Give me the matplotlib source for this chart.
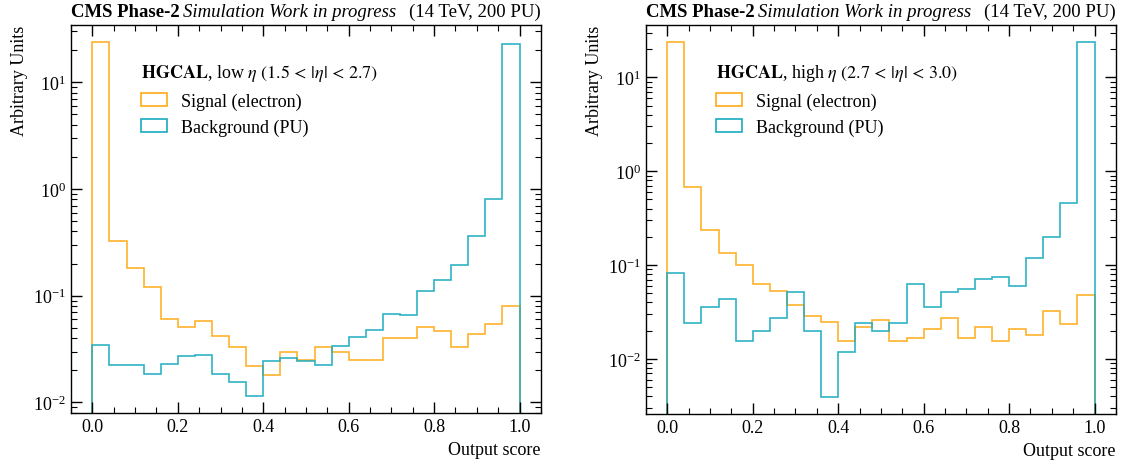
import numpy as np
import matplotlib
matplotlib.use("Agg")
import matplotlib.pyplot as plt
from matplotlib.patches import Patch
from matplotlib.ticker import MultipleLocator, LogLocator

plt.rcParams['font.family'] = ['Liberation Serif', 'DejaVu Serif']
plt.rcParams['mathtext.fontset'] = 'stix'

# bin edges of the output score
bin_edges = np.linspace(0.0, 1.0, 26)

# low eta (1.5 < |eta| < 2.7)
low_signal = [23.7, 0.322, 0.183, 0.121, 0.060, 0.051, 0.058, 0.042, 0.033, 0.022,
              0.018, 0.030, 0.025, 0.033, 0.030, 0.025, 0.025, 0.040, 0.040, 0.051,
              0.047, 0.033, 0.044, 0.054, 0.080]
low_bkg = [0.0346, 0.0222, 0.0222, 0.0183, 0.0231, 0.0271, 0.0279, 0.0183, 0.0155, 0.0116,
           0.0242, 0.0259, 0.0242, 0.0222, 0.0336, 0.0414, 0.0481, 0.0675, 0.0655, 0.110,
           0.139, 0.192, 0.364, 0.80, 22.9]

# high eta (2.7 < |eta| < 3.0)
high_signal = [23.6, 0.676, 0.239, 0.135, 0.101, 0.0625, 0.0531, 0.0376, 0.0287, 0.0246,
               0.0156, 0.0221, 0.0258, 0.0156, 0.0168, 0.0207, 0.0271, 0.0168, 0.0221, 0.0156,
               0.0207, 0.0182, 0.0325, 0.0236, 0.0481]
high_bkg = [0.0825, 0.0240, 0.0355, 0.0432, 0.0157, 0.0197, 0.0276, 0.0513, 0.0197, 0.00396,
            0.0119, 0.0240, 0.0197, 0.0240, 0.0635, 0.0355, 0.0513, 0.0557, 0.0712, 0.0753,
            0.0594, 0.118, 0.201, 0.456, 23.6]

legend_titles = [r"$\mathbf{HGCAL}$, low $\eta$ $(1.5\,<\,|\eta|\,<\,2.7)$",
                 r"$\mathbf{HGCAL}$, high $\eta$ $(2.7\,<\,|\eta|\,<\,3.0)$"]
labels = ["Signal (electron)", "Background (PU)"]
col_sig = '#ffaa14'
col_bkg = '#19abc0'

fig = plt.figure(figsize=(11.23, 4.64), dpi=100)
ax1 = fig.add_axes([0.0632, 0.107, 0.4185, 0.837])
ax2 = fig.add_axes([0.5752, 0.105, 0.4185, 0.839])

panels = [(ax1, low_signal, low_bkg, (0.0079, 34.4), legend_titles[0]),
          (ax2, high_signal, high_bkg, (0.00257, 36.2), legend_titles[1])]

fig.canvas.draw()
renderer = fig.canvas.get_renderer()

for ax, sig, bkg, ylim, ltitle in panels:
    ax.stairs(sig, bin_edges, baseline=1e-5, color=col_sig, lw=1.2, alpha=0.9)
    ax.stairs(bkg, bin_edges, baseline=1e-5, color=col_bkg, lw=1.2, alpha=0.9)
    ax.set_yscale('log')
    ax.set_xlim(-0.05, 1.05)
    ax.set_ylim(*ylim)

    ax.xaxis.set_major_locator(MultipleLocator(0.2))
    ax.xaxis.set_minor_locator(MultipleLocator(0.05))
    ax.yaxis.set_minor_locator(LogLocator(base=10, subs=np.arange(2, 10)))
    ax.tick_params(which='both', direction='in', top=True, right=True, labelsize=13)
    ax.tick_params(which='major', length=8, width=1)
    ax.tick_params(which='minor', length=4, width=0.8)
    ax.set_xticks([0.0, 0.2, 0.4, 0.6, 0.8, 1.0])
    ax.set_xticklabels(["0.0", "0.2", "0.4", "0.6", "0.8", "1.0"])
    for s in ax.spines.values():
        s.set_linewidth(1.0)

    ax.set_xlabel("Output score", fontsize=13, loc='right')
    ax.set_ylabel("Arbitrary Units", fontsize=13, loc='top')

    handles = [Patch(facecolor='none', edgecolor=col_sig, lw=1.2),
               Patch(facecolor='none', edgecolor=col_bkg, lw=1.2)]
    leg = ax.legend(handles, labels, title=ltitle, loc='upper left',
                    bbox_to_anchor=(0.15, 0.904), frameon=False, fontsize=13,
                    title_fontsize=13, handlelength=1.4, handleheight=0.75,
                    handletextpad=0.8, labelspacing=0.5, borderaxespad=0,
                    borderpad=0)
    leg._legend_box.align = 'left'

    # header
    t1 = ax.text(0.0, 1.012, "CMS Phase-2", transform=ax.transAxes, fontsize=13.5,
                 fontweight='bold', ha='left', va='bottom')
    fig.canvas.draw()
    bb = t1.get_window_extent(renderer).transformed(ax.transAxes.inverted())
    ax.text(bb.x1 + 0.008, 1.012, "Simulation Work in progress", transform=ax.transAxes,
            fontsize=13.5, style='italic', ha='left', va='bottom')
    ax.text(1.0, 1.012, "(14 TeV, 200 PU)", transform=ax.transAxes, fontsize=13.5,
            ha='right', va='bottom')

fig.savefig("out.png", dpi=100)
